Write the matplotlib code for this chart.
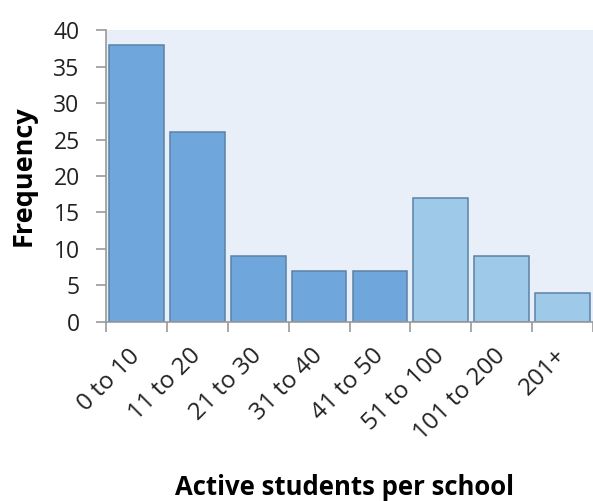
import numpy as np
import matplotlib.pyplot as plt
import matplotlib.transforms as mtransforms

plt.rcParams['font.family'] = ['Open Sans', 'DejaVu Sans']

kategorie = ['0 to 10', '11 to 20', '21 to 30', '31 to 40', '41 to 50',
             '51 to 100', '101 to 200', '201+']
liczebnosc = [38, 26, 9, 7, 7, 17, 9, 4]
# pierwsze piec przedzialow ma szerokosc 10, reszta jest szersza
szerokie = [False, False, False, False, False, True, True, True]

kolor_waski = '#6FA6DB'
kolor_szeroki = '#9FC9E9'

fig = plt.figure(figsize=(5.93, 5.01), dpi=100)
ax = fig.add_axes([0.1788, 0.3573, 0.8212, 0.5828])
ax.set_facecolor('#E9EFF9')

x = np.arange(len(kategorie)) + 0.5
kolory = [kolor_szeroki if s else kolor_waski for s in szerokie]
ax.bar(x, liczebnosc, width=0.9, color=kolory, edgecolor='#5A82A8', linewidth=1.1)

ax.set_xlim(0, len(kategorie))
ax.set_ylim(0, 40)
ax.set_yticks(range(0, 41, 5))

# kreski na granicach przedzialow, podpisy na srodkach
ax.set_xticks(range(len(kategorie) + 1))
ax.set_xticklabels([])
ax.set_xticks(x, minor=True)
ax.set_xticklabels(kategorie, minor=True, rotation=45, ha='right', va='center',
                   rotation_mode='anchor', fontsize=17.5, color='#222222')
przesun = mtransforms.ScaledTranslation(4 / 100, -2 / 100, fig.dpi_scale_trans)
for lab in ax.get_xticklabels(minor=True):
    lab.set_transform(lab.get_transform() + przesun)
ax.tick_params(axis='x', which='minor', length=0, pad=22)
ax.tick_params(axis='x', which='major', length=7, width=1.2, color='#999999')
ax.tick_params(axis='y', length=7, width=1.2, color='#999999', pad=12,
               labelsize=16.5, labelcolor='#222222')

for s in ['top', 'right']:
    ax.spines[s].set_visible(False)
for s in ['left', 'bottom']:
    ax.spines[s].set_color('#999999')
    ax.spines[s].set_linewidth(1.2)

ax.set_ylabel('Frequency', fontsize=19.5, fontweight='bold')
ax.yaxis.set_label_coords(-0.143, 0.5)
ax.set_xlabel('Active students per school', fontsize=18.5, fontweight='bold')
ax.xaxis.set_label_coords(0.49, -0.52)

fig.savefig('out.png', dpi=100)
